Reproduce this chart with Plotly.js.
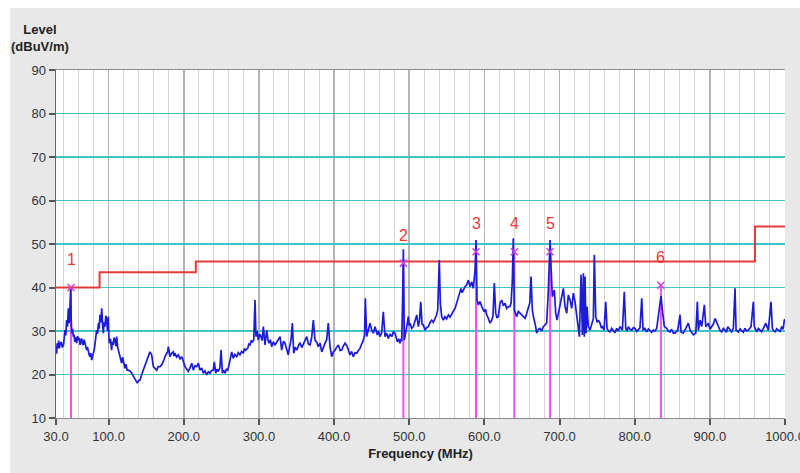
<!DOCTYPE html>
<html>
<head>
<meta charset="utf-8">
<script src="https://cdn.plot.ly/plotly-3.0.1.min.js"></script>
<style>html,body{margin:0;padding:0;background:#fff;}#chart{width:800px;height:473px;}</style>
</head>
<body>
<div id="chart"></div>
<script>
const freqMHz = [30,30.8,31.5,32.5,33.5,34.5,35.5,37,38.5,40,41,42,43,44.2,45.3,46.4,47.7,48.6,49.5,50.2,50.9,52,53,54,55,56.2,57.5,58.8,60,61,62,63,64.2,65.3,66.3,67.5,68.5,69.6,70.8,72,73,74,75.2,76.3,77.5,78.6,79.7,81,82,83,84.1,85.3,86.5,87.5,88.5,89.6,90.8,92,93,94,95.2,96.3,97.5,98.5,99.6,100.3,101,102.5,104,105,106,107.3,108.5,109.6,110.8,112,113,114.5,116,117.4,118.6,120,121.8,123,124.6,126.3,128.5,130.7,133,135.1,136.6,138.2,140,141.8,144,146.2,148.5,150.7,153,155,157.3,158.5,159.5,161.8,164,166,168.4,170.6,172.8,174,175,177,178.5,179.5,180.6,181.7,183.8,186,187,188.3,
190.5,192.7,195,197.2,199.5,201.7,204,206,208.3,210.6,212.7,215,217.2,219.4,221.6,224,226,228.2,230.5,232.7,234.9,237,239.3,240.7,242.5,244.2,246,248,249.6,251.4,253,254.9,256.7,258.5,260,261.5,263.8,265.9,268,270.4,272.6,274.8,277,279.2,280.8,282.4,285.1,286.6,288.2,289.7,291.2,293.1,294.8,296.1,297.6,299.2,301,302.8,304.3,305.9,308.1,309.2,310.4,312,313.4,315.2,317,319.2,321.4,323.6,325.8,328.1,330.3,332.5,334.7,337,339.1,341,342.7,344.5,346.3,348.3,350.3,352.5,354.7,357,359.1,
361.3,363.6,365.8,368,370.2,372.4,374.6,376.8,379,381.3,383.6,385.8,388,390.2,392.3,394.6,396.9,399,401.3,403.5,405.7,408,410.2,412.4,414.6,417.6,419.4,421.2,423.4,425.6,427.8,430.1,432.3,434.5,436.7,438.9,440.5,441.6,443.4,445.6,447.8,450.1,452.3,454.5,456,457.6,459.3,461.1,463.3,465.5,467.8,470,472.2,474.5,476.7,479,481.1,482.7,484.2,486,487.7,489,490,491.3,492.2,493.5,495,496.7,498.8,500,501.1,503.3,505.5,507.8,510,512.1,513.7,515.3,517,518.8,
521,523.2,525.4,527.6,529.9,532,534.3,536,537.9,538.7,540,541.4,543.2,545.4,547.6,549.8,552.1,554.3,556.6,558.8,561,563.2,565.4,567,568.9,570.5,572,574.2,576.5,578.7,580.9,583.2,585.3,587.6,588.9,590.2,592,594.2,596.5,598.2,599.9,601.5,603.1,605.3,607.5,609.8,611.5,613.2,615.1,616.8,618.5,620.8,623.1,625.3,627.5,629.7,631.9,634.1,635.6,637.2,638.5,639.9,641.5,643,645.2,647.4,649.6,651.8,654.1,656.3,658.5,660.5,662.1,663.8,665.6,667.4,669.6,671.8,674,676.2,678.5,
680.7,682.9,685.1,687.4,688.7,690.4,693.1,694.9,696.7,699.3,702,705.1,707.3,709.6,711.7,714,716.2,718.4,720.6,722.9,725,726.4,728.6,730.4,731.7,733,733.9,735.3,736.6,738.3,740.6,742.9,745,746.3,748.2,750,751.6,753.9,755.5,757,759.2,761.5,763.2,765.2,767.2,769.4,771.6,773.8,776.1,778.3,780.5,783.6,786.2,788.1,789.8,791.5,793.8,796.1,798.3,800.5,802.6,804.8,807,809.4,811.1,813.5,816,818.2,820.4,822.6,824.8,827,829.3,832.4,835,836.8,839.5,842.6,844.8,847,849.2,851.4,
853.7,857.3,860.3,861.7,864.7,868,871.4,873.7,876,878.1,881.3,883.4,884.7,887,889.2,891.4,892.7,894.6,898,900.2,902.5,904.7,906.9,909.2,912.2,914,915.8,918,920.2,922,923.8,926.9,929,931.3,933.5,934.9,937.9,940.2,942.4,944.6,946.8,949,951.2,954.8,957.9,959.2,962.4,964.6,966.8,969,971.2,974.4,977.8,981.4,983.2,985,986.8,989,991.2,993.4,995.7,997.5,999.1,1000];
const levelDb = [26.4,24.8,27.2,26.0,27.8,26.0,27.0,27.5,26.2,26.8,28.5,30.2,29.0,32.5,31.0,35.2,31.8,36.0,39.8,33.0,29.5,30.5,28.7,29.2,27.5,28.6,27.2,28.8,27.9,28.4,26.8,27.6,28.3,27.0,26.8,28.0,27.2,26.2,25.6,26.3,25.2,24.6,24.1,24.9,23.3,24.0,24.9,25.8,27.2,28.3,30.2,29.4,31.8,30.5,33.7,32.0,35.2,31.5,29.5,32.0,31.0,33.5,32.5,30.0,33.3,29.0,27.2,28.2,25.6,27.5,26.8,28.5,27.9,26.5,28.7,26.3,25.6,24.0,23.5,22.6,24.0,22.8,21.4,22.4,21.0,21.0,20.8,20.3,19.5,18.7,18.3,18.0,18.6,18.7,20.0,21.0,22.4,23.3,24.3,25.2,24.5,23.0,21.8,21.4,21.0,21.8,21.8,22.2,22.9,23.5,24.1,24.6,25.2,26.4,24.4,24.1,24.9,25.2,24.2,24.9,
24.0,24.5,23.6,24.1,23.0,21.8,21.2,20.7,21.5,22.6,21.0,22.0,21.8,22.6,21.0,21.5,20.3,20.8,19.9,20.6,20.3,20.9,21.0,22.9,20.3,21.2,20.7,21.5,25.6,20.3,21.0,20.3,21.2,21.0,22.0,23.3,25.2,23.7,24.6,24.1,25.0,24.5,25.3,24.9,26.0,25.6,26.0,27.0,26.8,27.8,27.5,27.9,37.1,28.7,30.0,27.9,29.3,28.7,27.8,31.0,26.8,28.5,30.2,28.0,27.2,28.0,26.4,27.5,26.8,27.4,27.9,28.7,25.6,27.6,27.2,26.0,24.5,26.5,27.9,31.8,24.9,26.3,25.6,26.5,27.3,26.2,27.0,
28.0,28.7,27.0,26.8,28.5,32.5,27.9,27.5,26.4,27.2,25.2,26.4,27.2,28.0,31.8,26.4,24.1,25.2,25.6,26.3,26.8,25.5,25.6,26.6,27.2,26.4,25.5,24.5,25.3,24.1,25.0,24.9,25.5,26.0,27.0,27.9,29.0,37.5,28.7,30.5,31.8,30.2,29.5,31.0,29.8,29.1,30.0,28.7,29.6,34.4,28.7,29.5,28.3,29.3,28.7,29.8,29.5,28.4,27.5,28.2,27.2,28.0,27.9,37.9,48.8,27.9,30.0,31.0,33.3,31.2,31.8,30.6,31.0,32.2,33.7,31.0,32.4,36.7,31.6,31.4,
30.2,30.8,31.0,31.9,32.5,32.0,32.9,33.5,34.8,40.2,46.3,36.4,33.3,32.5,33.3,32.8,33.7,33.2,34.1,34.6,35.2,36.5,37.9,38.8,39.8,38.8,39.4,40.2,40.6,41.7,40.2,41.3,39.8,44.0,50.9,37.1,36.0,36.8,35.6,35.0,34.4,35.0,33.7,32.9,31.8,32.5,33.5,41.0,34.1,33.0,33.3,36.4,37.1,35.8,36.4,35.2,35.6,35.6,36.5,41.7,51.3,34.8,34.0,33.3,34.5,34.1,33.6,33.3,32.9,34.0,35.2,36.5,42.5,34.8,33.0,31.8,29.5,30.4,30.6,30.0,31.0,
31.4,31.8,39.4,50.9,44.8,37.9,39.4,34.1,32.5,34.8,37.9,39.8,35.6,34.1,38.3,37.1,35.2,38.7,36.7,33.3,30.2,28.7,42.9,29.1,43.3,28.7,42.5,29.5,35.6,31.0,30.2,31.8,32.9,47.5,33.3,32.0,32.5,31.8,30.8,31.0,30.2,36.7,30.6,30.0,29.8,30.6,30.2,29.6,30.6,30.0,31.0,30.2,39.0,30.6,30.0,31.0,30.4,30.2,30.8,30.6,29.9,30.2,30.7,37.5,30.2,30.6,29.8,30.5,30.2,29.7,30.2,30.0,30.6,35.2,38.0,34.8,31.0,30.6,30.0,29.8,30.4,29.5,
29.5,30.2,33.7,29.8,29.5,30.6,31.8,30.2,29.6,29.1,29.5,36.7,30.2,32.5,31.0,34.8,36.0,31.0,31.8,30.4,31.0,31.6,32.9,31.8,30.6,30.0,29.8,30.6,30.2,29.7,31.0,30.2,29.8,30.6,39.8,30.2,29.8,30.5,30.2,29.7,30.6,30.0,30.2,31.0,36.7,31.0,29.8,30.6,30.2,29.8,30.6,31.8,30.2,36.7,30.6,30.0,29.8,30.5,30.2,29.9,31.0,30.4,32.5,32.7];

// Limit line (step)
const limitFreq = [30, 88, 216, 960, 1000];
const limitDb = [40, 43.5, 46, 54, 54];

// Markers
const markerLabels = ["1", "2", "3", "4", "5", "6"];
const markerFreq = [50, 492.2, 588.9, 639.9, 687.4, 834.9];
const markerDb = [40, 45.6, 48.2, 48.2, 48.2, 40.5];

// Axis ticks
const xTickVals = [30, 100, 200, 300, 400, 500, 600, 700, 800, 900, 1000];
const xTickText = ["30.0", "100.0", "200.0", "300.0", "400.0", "500.0", "600.0", "700.0", "800.0", "900.0", "1000.0"];
const yTickVals = [10, 20, 30, 40, 50, 60, 70, 80, 90];

const stemX = [], stemY = [];
markerFreq.forEach((f, i) => { stemX.push(f, f, null); stemY.push(10, markerDb[i], null); });

const traces = [
  { x: stemX, y: stemY, mode: 'lines', line: { color: '#f050f0', width: 2 }, hoverinfo: 'skip', showlegend: false },
  { x: limitFreq, y: limitDb, mode: 'lines', line: { color: '#e53a3a', width: 2, shape: 'hv' }, showlegend: false },
  { x: freqMHz, y: levelDb, mode: 'lines', line: { color: '#1c1cd8', width: 1.7 }, showlegend: false },
  { x: markerFreq, y: markerDb, mode: 'markers', marker: { symbol: 'x-thin-open', size: 7, color: '#d040e0', line: { color: '#d040e0', width: 1.5 } }, showlegend: false }
];

const annotations = markerLabels.map((t, i) => ({
  x: markerFreq[i], y: markerDb[i], xref: 'x', yref: 'y', text: t, showarrow: false,
  yshift: 28, font: { family: 'Liberation Sans, Arial, sans-serif', size: 16, color: '#e53a3a' }
}));
annotations.push({
  xref: 'paper', yref: 'paper', x: -0.022, y: 1.092, xanchor: 'center', yanchor: 'middle',
  text: '<b>Level<br>(dBuV/m)</b>', showarrow: false,
  align: 'center', font: { family: 'Liberation Sans, Arial, sans-serif', size: 13, color: '#222' }
});

const layout = {
  width: 800, height: 473,
  margin: { l: 56, r: 15, t: 70, b: 55 },
  paper_bgcolor: '#ffffff',
  plot_bgcolor: '#ffffff',
  showlegend: false,
  font: { family: 'Liberation Sans, Arial, sans-serif', size: 13, color: '#333' },
  shapes: [
    { type: 'rect', xref: 'paper', yref: 'paper', x0: -0.0631, x1: 1.03, y0: -0.17, y1: 1.178, fillcolor: '#e8e8e8', line: { width: 0 }, layer: 'below' },
    { type: 'rect', xref: 'paper', yref: 'paper', x0: 0, x1: 1, y0: 0, y1: 1, fillcolor: '#ffffff', line: { width: 0 }, layer: 'below' }
  ],
  xaxis: {
    range: [30, 1000], tickmode: 'array', tickvals: xTickVals, ticktext: xTickText,
    ticks: 'outside', ticklen: 6, tickwidth: 2, tickcolor: '#555',
    ticklabeloverflow: 'allow',
    showgrid: true, gridcolor: '#b4b4b4', gridwidth: 1.5,
    minor: { tickmode: 'linear', tick0: 0, dtick: 20, showgrid: true, gridcolor: '#d6d6d6', gridwidth: 1, ticks: '' },
    showline: true, linecolor: '#8a8a8a', linewidth: 1, mirror: true, zeroline: false,
    tickfont: { size: 13, color: '#333' },
    title: { text: '<b>Frequency (MHz)</b>', font: { size: 13, color: '#222' }, standoff: 6 }
  },
  yaxis: {
    range: [10, 90], tickmode: 'array', tickvals: yTickVals,
    ticks: 'outside', ticklen: 6, tickwidth: 2, tickcolor: '#555',
    showgrid: true, gridcolor: '#3ec3cb', gridwidth: 1.6,
    showline: true, linecolor: '#666', linewidth: 1.5, zeroline: false,
    tickfont: { size: 13, color: '#333' }
  },
  annotations: annotations
};

Plotly.newPlot('chart', traces, layout, { staticPlot: true, displayModeBar: false });
</script>
</body>
</html>
